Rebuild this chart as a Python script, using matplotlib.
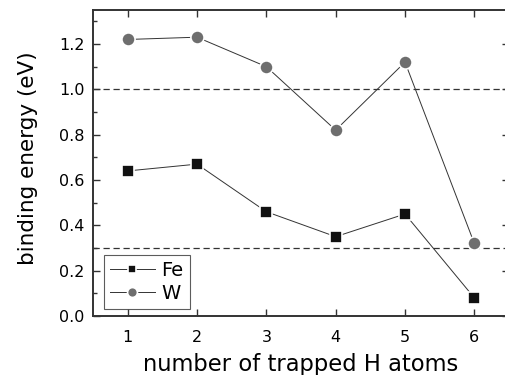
import matplotlib
matplotlib.use("Agg")
import matplotlib.pyplot as plt
from matplotlib.ticker import MultipleLocator, FormatStrFormatter

n_atoms = [1, 2, 3, 4, 5, 6]
fe_energy = [0.64, 0.67, 0.46, 0.35, 0.45, 0.08]
w_energy = [1.22, 1.23, 1.10, 0.82, 1.12, 0.32]
ref_lines = [1.0, 0.3]

plt.rcParams['font.family'] = ['DejaVu Sans']

fig = plt.figure(figsize=(5.06, 3.75), dpi=100)
ax = fig.add_axes([93/506, 59/375, 416/506, 306/375])

for y in ref_lines:
    ax.axhline(y, color='#333333', lw=0.9, ls=(0, (5, 3)), zorder=1)

ax.plot(n_atoms, fe_energy, '-s', color='#333333', lw=0.7, ms=8,
        mfc='#111111', mec='white', mew=1.2, label='Fe', zorder=3)
ax.plot(n_atoms, w_energy, '-o', color='#333333', lw=0.7, ms=9.5,
        mfc='#6e6e6e', mec='white', mew=1.2, label='W', zorder=3)

ax.set_xlim(0.5, 6.5)
ax.set_ylim(0.0, 1.35)
ax.xaxis.set_major_locator(MultipleLocator(1))
ax.yaxis.set_major_locator(MultipleLocator(0.2))
ax.yaxis.set_minor_locator(MultipleLocator(0.1))
ax.yaxis.set_major_formatter(FormatStrFormatter('%.1f'))
ax.tick_params(which='both', direction='in', top=True, right=True,
               labelsize=11.5, color='#333333')
ax.tick_params(axis='y', pad=6)
ax.tick_params(axis='x', pad=10)
ax.tick_params(which='major', length=5, width=1)
ax.tick_params(which='minor', length=3, width=1)
for s in ax.spines.values():
    s.set_color('#333333')
    s.set_linewidth(1.4)

ax.set_xlabel('number of trapped H atoms', fontsize=16.3, labelpad=6)
ax.set_ylabel('binding energy (eV)', fontsize=15.5)
ax.yaxis.set_label_coords(-0.132, 0.515)

leg = ax.legend(loc='lower left', fontsize=14, frameon=True, fancybox=False,
                edgecolor='#333333', handlelength=2.3, borderpad=0.3,
                labelspacing=0.2, handletextpad=0.35, markerscale=0.75,
                borderaxespad=0, bbox_to_anchor=(0.027, 0.023))
leg.get_frame().set_linewidth(0.8)

fig.savefig('out.png', dpi=100)
